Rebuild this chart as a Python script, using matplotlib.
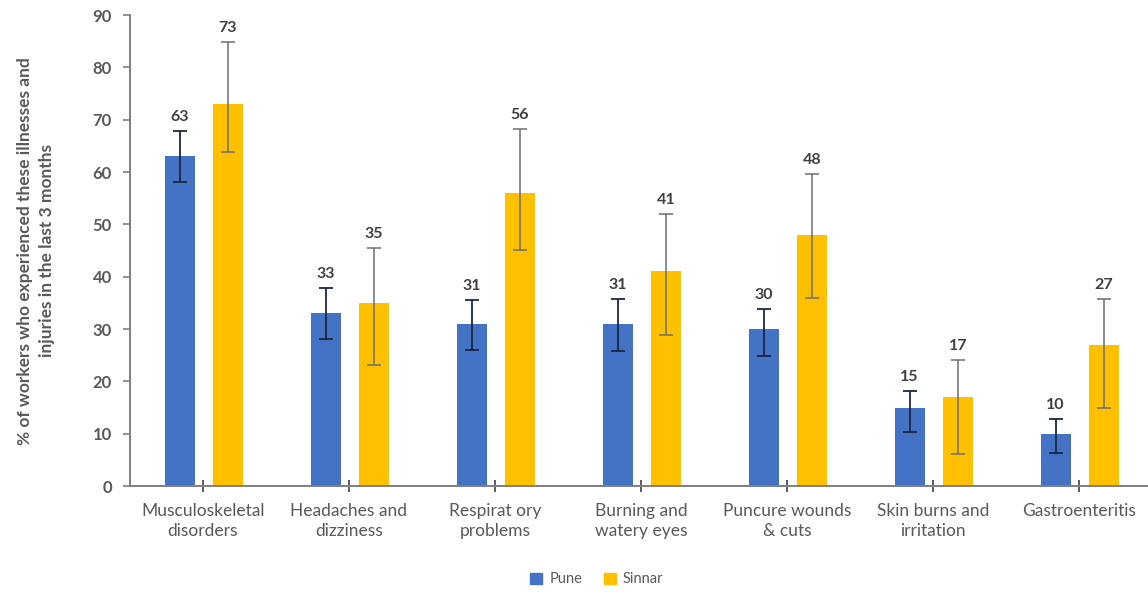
import numpy as np
import matplotlib
matplotlib.use("Agg")
import matplotlib.pyplot as plt
from matplotlib.patches import Patch

plt.rcParams['font.family'] = ['Lato', 'DejaVu Sans']

categories = ["Musculoskeletal\ndisorders", "Headaches and\ndizziness", "Respirat ory\nproblems",
              "Burning and\nwatery eyes", "Puncure wounds\n& cuts", "Skin burns and\nirritation",
              "Gastroenteritis"]

pune = [63, 33, 31, 31, 30, 15, 10]
sinnar = [73, 35, 56, 41, 48, 17, 27]

# Confidence interval bounds
pune_lo = [58.1, 28.1, 26.0, 25.8, 24.8, 10.4, 6.4]
pune_hi = [67.8, 37.9, 35.5, 35.7, 33.8, 18.2, 12.9]
sinnar_lo = [63.9, 23.1, 45.1, 28.9, 36.0, 6.1, 15.0]
sinnar_hi = [84.9, 45.5, 68.2, 51.9, 59.6, 24.0, 35.7]

yticks = list(range(0, 100, 10))

blue = "#4472C4"
gold = "#FFC000"
grey_txt = "#595959"

fig = plt.figure(figsize=(11.48, 5.94), dpi=100)
ax = fig.add_axes([0.1132, 0.1818, 0.8903, 0.7929])

x = np.arange(len(categories))
w = 0.205
off_p, off_s = -0.16, 0.17

p = np.array(pune, dtype=float)
s = np.array(sinnar, dtype=float)
yerr_p = [p - np.array(pune_lo), np.array(pune_hi) - p]
yerr_s = [s - np.array(sinnar_lo), np.array(sinnar_hi) - s]

ax.bar(x + off_p, p, w, color=blue, zorder=2)
ax.bar(x + off_s, s, w, color=gold, zorder=2)
ax.errorbar(x + off_p, p, yerr=yerr_p, fmt='none', ecolor="#1b2641", elinewidth=1.3,
            capsize=5, capthick=1.3, zorder=3)
ax.errorbar(x + off_s, s, yerr=yerr_s, fmt='none', ecolor="#6e6e6e", elinewidth=1.1,
            capsize=5, capthick=1.1, zorder=3)

for xi, v, top in zip(x + off_p, pune, pune_hi):
    ax.annotate(f"{v}", (xi, top), xytext=(0, 5), textcoords="offset points",
                ha="center", va="bottom", fontsize=11.5, fontweight="bold", color="#404040")
for xi, v, top in zip(x + off_s, sinnar, sinnar_hi):
    ax.annotate(f"{v}", (xi, top), xytext=(0, 5), textcoords="offset points",
                ha="center", va="bottom", fontsize=11.5, fontweight="bold", color="#404040")

ax.set_xlim(-0.5, len(categories) - 0.5)
ax.set_ylim(0, 90)
ax.set_yticks(yticks)
ax.set_yticklabels([str(t) for t in yticks], fontsize=12, fontweight="bold", color=grey_txt)
ax.set_xticks(x)
ax.set_xticklabels(categories, fontsize=12.5, color=grey_txt, linespacing=1.3)

for side in ("top", "right"):
    ax.spines[side].set_visible(False)
for side in ("left", "bottom"):
    ax.spines[side].set_color("#7f7f7f")
    ax.spines[side].set_linewidth(1.4)

ax.tick_params(axis="y", direction="out", length=5, width=1.2, color="#7f7f7f", pad=8)
ax.tick_params(axis="x", direction="inout", length=8, width=1.2, color="#404040", pad=8)

fig.text(0.031, 0.578, "% of workers who experienced these illnesses and\ninjuries in the last 3 months",
         rotation=90, ha="center", va="center", fontsize=12.5, fontweight="bold",
         color=grey_txt, linespacing=1.45)

handles = [Patch(color=blue, label="Pune"), Patch(color=gold, label="Sinnar")]
fig.legend(handles=handles, loc="center", bbox_to_anchor=(0.52, 0.025), ncol=2,
           frameon=False, fontsize=10.5, handlelength=0.8, handleheight=0.8,
           columnspacing=1.5, handletextpad=0.5, labelcolor=grey_txt)

fig.savefig("out.png", dpi=100)
